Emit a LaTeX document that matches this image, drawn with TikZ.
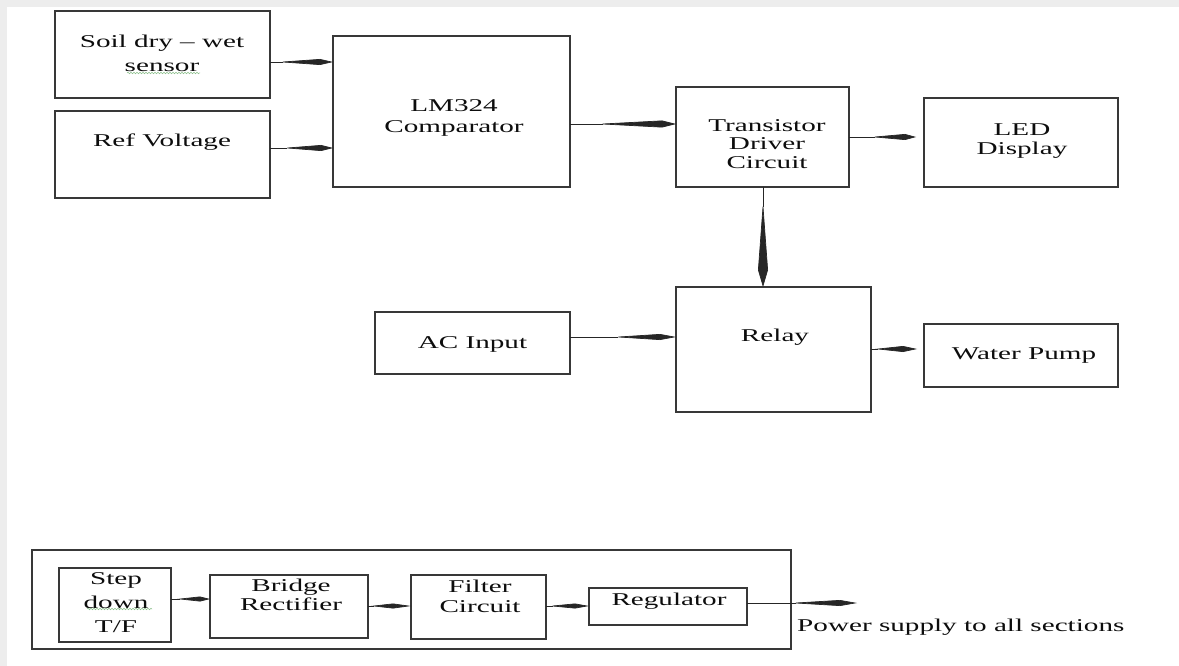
\documentclass[tikz,border=0pt]{standalone}
\usepackage{fontspec}
\setmainfont{Liberation Serif}
\usepackage{graphicx}
\usetikzlibrary{arrows.meta,decorations.pathmorphing}
\newcommand{\stretchtxt}[2]{\scalebox{1.62}[1]{\fontsize{18}{#1}\selectfont\begin{tabular}{@{}c@{}}#2\end{tabular}}}
\tikzset{
  box/.style={draw=black!78, line width=1.3pt, inner sep=0pt, outer sep=0pt},
  txt/.style={inner sep=0pt, text=black!95},
  conn/.style n args={3}{draw=black!85, line width=0.7pt, -{Kite[length=#1pt,inset=#2pt,width=#3pt]}},
  squig/.style={decorate, decoration={snake, amplitude=0.8pt, segment length=3pt}, draw=green!45!black!45, line width=0.5pt},
}
\begin{document}
\begin{tikzpicture}[x=1pt,y=-1pt]
\useasboundingbox (0,0) rectangle (1179,666);
\fill[white] (0,0) rectangle (1179,666);
\fill[black!7] (0,0) rectangle (1179,7);
\fill[black!7] (0,0) rectangle (7,666);

% boxes
\node[box, minimum width=215pt, minimum height=87pt] (soil) at (162.5,54.5) {};
\node[box, minimum width=215pt, minimum height=87pt] (ref) at (162.5,154.5) {};
\node[box, minimum width=237pt, minimum height=151pt] (lm) at (451.5,111.5) {};
\node[box, minimum width=173pt, minimum height=100pt] (tdc) at (762.5,137) {};
\node[box, minimum width=194pt, minimum height=89pt] (led) at (1021,142.5) {};
\node[box, minimum width=195pt, minimum height=62pt] (ac) at (472.5,343) {};
\node[box, minimum width=195pt, minimum height=125pt] (relay) at (773.5,349.5) {};
\node[box, minimum width=194pt, minimum height=63pt] (pump) at (1021,355.5) {};
\node[box, minimum width=759pt, minimum height=99pt] (outer) at (411.5,599.5) {};
\node[box, minimum width=112pt, minimum height=74pt] (step) at (115,605) {};
\node[box, minimum width=158pt, minimum height=63pt] (bridge) at (289,606.5) {};
\node[box, minimum width=135pt, minimum height=64pt] (filter) at (478.5,607) {};
\node[box, minimum width=158pt, minimum height=37pt] (reg) at (668,606.5) {};

% texts
\node[txt] (soilt) at (162,55) {\stretchtxt{24}{Soil dry -- wet\\sensor}};
\node[txt] (reft) at (162,143) {\stretchtxt{19}{Ref Voltage}};
\node[txt] (lmt) at (454,118) {\stretchtxt{21}{LM324\\Comparator}};
\node[txt] (tdct) at (767,146) {\stretchtxt{18.5}{Transistor\\Driver\\Circuit}};
\node[txt] (ledt) at (1022,141.5) {\stretchtxt{19}{LED\\Display}};
\node[txt] (act) at (472.5,345) {\stretchtxt{19}{AC Input}};
\node[txt] (relayt) at (775,338) {\stretchtxt{19}{Relay}};
\node[txt] (pumpt) at (1024,356) {\stretchtxt{19}{Water Pump}};
\node[txt] (stept) at (116,604) {\stretchtxt{24}{Step\\down\\T/F}};
\node[txt] (bridget) at (291,597) {\stretchtxt{19}{Bridge\\Rectifier}};
\node[txt] (filtert) at (480,598) {\stretchtxt{20}{Filter\\Circuit}};
\node[txt] (regt) at (669,602) {\stretchtxt{19}{Regulator}};
\node[txt, anchor=west] (pwr) at (797,628) {\stretchtxt{19}{Power supply to all sections}};

% spell-check squiggles
\draw[squig] (127,73) -- (200,73);
\draw[squig] (87,609) -- (152,609);

% connectors
\draw[conn={55}{42}{6}] (soil.east |- 0,62) -- (lm.west |- 0,62);
\draw[conn={50}{38}{6}] (ref.east |- 0,148) -- (lm.west |- 0,148);
\draw[conn={80}{66}{7}] (lm.east |- 0,124) -- (tdc.west |- 0,124);
\draw[conn={45}{34}{6}, shorten >=8pt] (tdc.east |- 0,137) -- (led.west |- 0,137);
\draw[conn={85}{68}{10}] (tdc.south -| 763,0) -- (relay.north -| 763,0);
\draw[conn={63}{47}{6}] (ac.east |- 0,337) -- (relay.west |- 0,337);
\draw[conn={42}{28}{6}, shorten >=7pt] (relay.east |- 0,349) -- (pump.west |- 0,349);
\draw[conn={33}{23}{5}] (step.east |- 0,599) -- (bridge.west |- 0,599);
\draw[conn={40}{22}{5}] (bridge.east |- 0,606) -- (filter.west |- 0,606);
\draw[conn={40}{26}{5}] (filter.east |- 0,606) -- (reg.west |- 0,606);
\coordinate (out) at (857,603);
\draw[conn={67}{50}{6}] (reg.east |- out) -- (out);
\end{tikzpicture}
\end{document}
